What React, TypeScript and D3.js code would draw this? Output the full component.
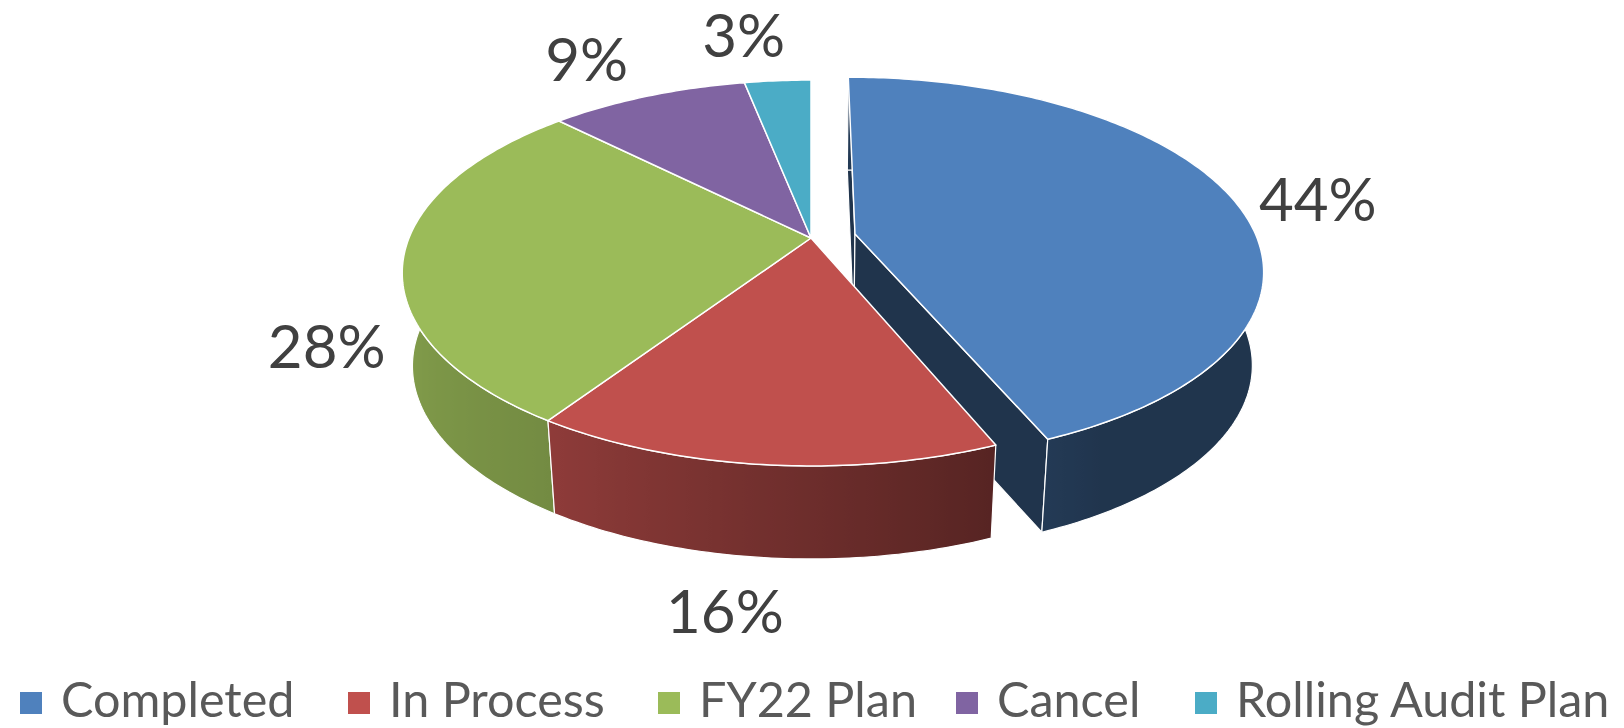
import { useEffect, useRef } from 'react'
import * as d3 from 'd3'

// audit items by status, the labels show rounded shares
const categories = ['Completed', 'In Process', 'FY22 Plan', 'Cancel', 'Rolling Audit Plan']
const itemCounts = [14, 5, 9, 3, 1]
const sliceColors = ['#4F81BD', '#C0504D', '#9BBB59', '#8064A2', '#4BACC6']

const WIDTH = 1624
const HEIGHT = 728

// perspective of the pie top (unit radius), excel style
const CX = 811
const CY = 238
const RX = 402
const RY = 186.6
const PERSP = 0.1814
const DEPTH = 93
const SHRINK = 0.975
const EXPLODE = 0.112 // first slice is pulled out

const labelNudges = [[85, 0], [-38, 147], [-77, 90], [-61, -37], [-34, -45]]
const legendX = [20, 348, 658, 956, 1195]

const FONT = 'Lato, "Open Sans", sans-serif'

function App() {
  const svgRef = useRef<SVGSVGElement>(null)

  useEffect(() => {
    if (!svgRef.current) return
    const svg = d3.select(svgRef.current)
    svg.selectAll('*').remove()

    const project = (x: number, z: number): [number, number] => {
      const g = 1 / (1 - PERSP * z)
      return [CX + RX * x * g, CY + RY * z * g]
    }
    const drop = (p: [number, number]): [number, number] => [CX + (p[0] - CX) * SHRINK, p[1] + DEPTH]

    // darker sides, lit from the left
    const shadeScale = d3.scaleLinear()
      .domain([0, 150, 215, 265, 360])
      .range([0.4, 0.41, 0.75, 0.87, 0.87])
      .clamp(true)
    const shade = (c: string, f: number) => {
      const r = d3.rgb(c)
      return d3.rgb(r.r * f, r.g * f, r.b * f).formatHex()
    }
    const deg = (t: number) => t * 180 / Math.PI

    const total = d3.sum(itemCounts)
    const arcs = d3.pie<number>().sort(null).value(d => d)(itemCounts)
    const line = d3.line()

    const slices = arcs.map((a, i) => {
      const mid = (a.startAngle + a.endAngle) / 2
      const off = i === 0 ? EXPLODE : 0
      const ox = off * Math.sin(mid)
      const oz = -off * Math.cos(mid)
      const rim = (t: number) => project(ox + Math.sin(t), oz - Math.cos(t))
      const n = Math.max(6, Math.ceil((a.endAngle - a.startAngle) / 0.015))
      const ts = d3.range(n + 1).map(k => a.startAngle + (a.endAngle - a.startAngle) * k / n)
      return { i, a, mid, off, apex: project(ox, oz), rim, ts, color: sliceColors[i] }
    })

    const defs = svg.append('defs')
    const g = svg.append('g')

    // radial faces of the pulled out slice
    slices.filter(s => s.off > 0).forEach(s => {
      [s.a.startAngle, s.a.endAngle].forEach(t => {
        const top = s.rim(t)
        const pts = [s.apex, top, drop(top), drop(s.apex)]
        g.append('path')
          .attr('d', line(pts) + 'Z')
          .attr('fill', shade(s.color, 0.4))
          .attr('stroke', '#fff')
          .attr('stroke-width', 1.2)
          .attr('stroke-linejoin', 'round')
      })
    })

    // outer walls, back to front
    const walls = slices.slice().sort((p, q) => -Math.cos(p.mid) - -Math.cos(q.mid))
    walls.forEach(s => {
      const tops = s.ts.map(s.rim)
      const bottoms = tops.map(drop)
      // only the front facing part gets a gradient, x runs one way there
      const front = s.ts
        .map((t, k) => ({ t, x: tops[k][0] }))
        .filter(d => deg(d.t) >= 100 && deg(d.t) <= 260)
        .sort((p, q) => p.x - q.x)
      let fill = shade(s.color, shadeScale(deg(s.mid)))
      if (front.length > 1) {
        const x0 = front[0].x
        const x1 = front[front.length - 1].x
        const grad = defs.append('linearGradient')
          .attr('id', `wall-${s.i}`)
          .attr('gradientUnits', 'userSpaceOnUse')
          .attr('x1', x0).attr('x2', x1)
          .attr('y1', 0).attr('y2', 0)
        front.forEach(d => {
          grad.append('stop')
            .attr('offset', (d.x - x0) / (x1 - x0))
            .attr('stop-color', shade(s.color, shadeScale(deg(d.t))))
        })
        fill = `url(#wall-${s.i})`
      }
      g.append('path')
        .attr('d', line([...tops, ...bottoms.reverse()]) + 'Z')
        .attr('fill', fill)
        .attr('stroke', '#fff')
        .attr('stroke-width', 1.2)
        .attr('stroke-linejoin', 'round')
    })

    // tops
    slices.forEach(s => {
      const pts = [s.apex, ...s.ts.map(s.rim)]
      g.append('path')
        .attr('d', line(pts) + 'Z')
        .attr('fill', s.color)
        .attr('stroke', '#fff')
        .attr('stroke-width', 1.5)
        .attr('stroke-linejoin', 'round')
    })

    // data labels
    slices.forEach(s => {
      const [ax, ay] = s.rim(s.mid)
      const [dx, dy] = labelNudges[s.i]
      g.append('text')
        .attr('x', ax + dx)
        .attr('y', ay + dy)
        .attr('dy', '0.36em')
        .attr('text-anchor', 'middle')
        .style('font-family', FONT)
        .style('font-size', '60px')
        .style('fill', '#404040')
        .text(`${Math.round(itemCounts[s.i] / total * 100)}%`)
    })

    // legend
    const legend = svg.append('g').attr('class', 'legend')
    categories.forEach((name, i) => {
      const item = legend.append('g').attr('transform', `translate(${legendX[i]},0)`)
      item.append('rect')
        .attr('x', 0)
        .attr('y', 692)
        .attr('width', 22)
        .attr('height', 22)
        .attr('fill', sliceColors[i])
      item.append('text')
        .attr('x', 41)
        .attr('y', 717)
        .style('font-family', FONT)
        .style('font-size', '48.5px')
        .style('fill', '#595959')
        .text(name)
    })
  }, [])

  return (
    <svg
      ref={svgRef}
      width={WIDTH}
      height={HEIGHT}
      style={{ position: 'absolute', left: 0, top: 0, background: '#fff' }}
    />
  )
}

export default App
